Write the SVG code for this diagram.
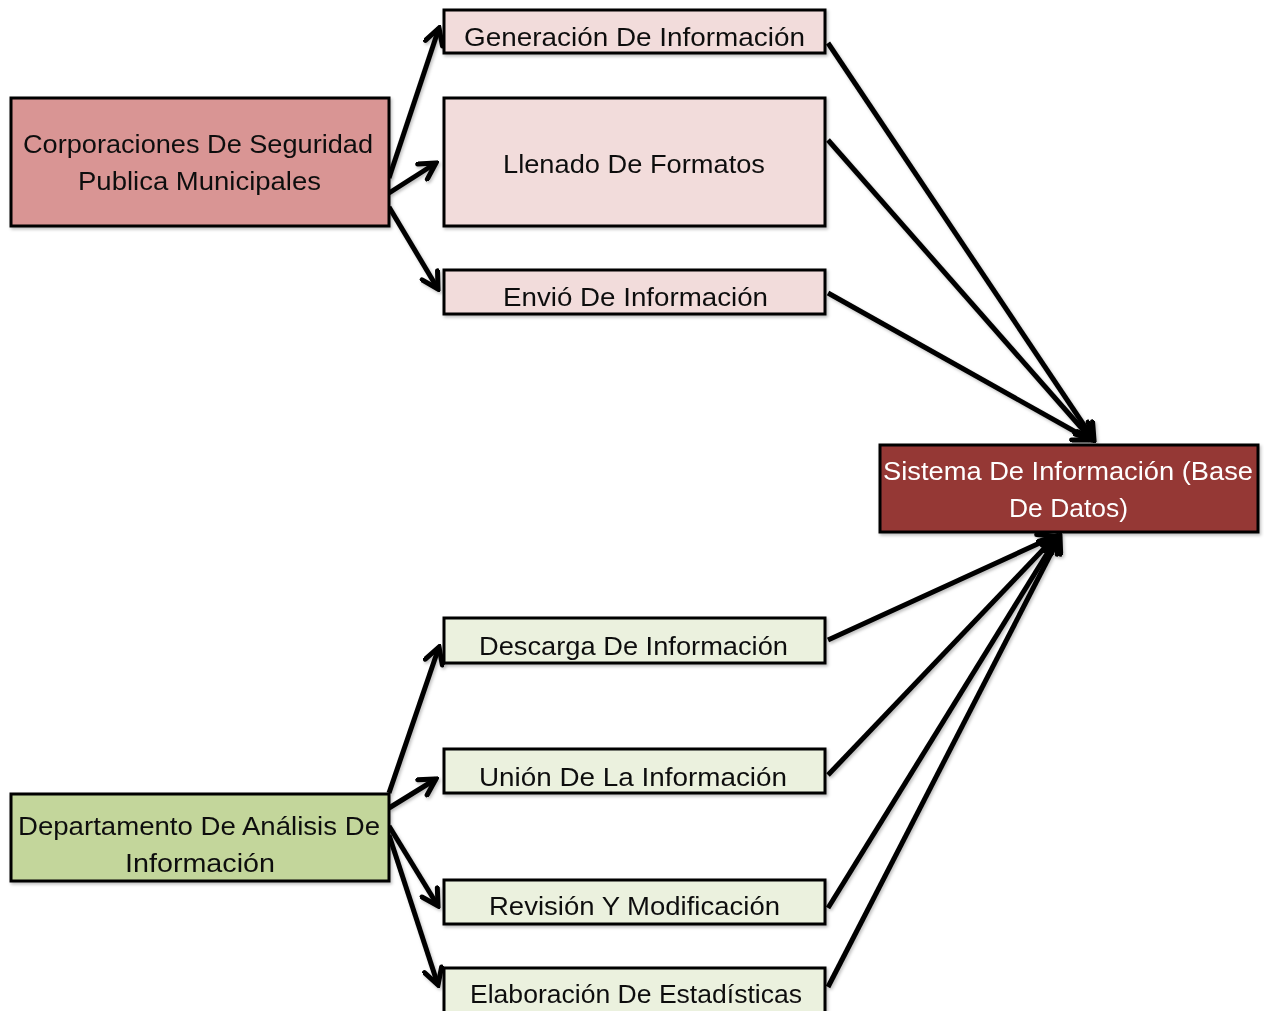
<svg xmlns="http://www.w3.org/2000/svg" width="1264" height="1011" viewBox="0 0 1264 1011">
<style>
.box{stroke:#000;stroke-width:3}
.t{font-family:"Liberation Sans",Arial,sans-serif;font-size:26px;fill:#111}
.w{fill:#fff}
.ln{stroke:#000;stroke-width:5;fill:none;marker-end:url(#ah)}
.pk{fill:#f2dcdb}
.rd{fill:#d99594}
.dr{fill:#953735}
.lg{fill:#ebf1de}
.gr{fill:#c3d69b}
</style>
<defs>
<marker id="ah" viewBox="0 0 22 22" refX="19" refY="11" markerWidth="22" markerHeight="22" markerUnits="userSpaceOnUse" orient="auto">
<path d="M3,2 L19,11 L3,20" fill="none" stroke="#000" stroke-width="5" stroke-linecap="round" stroke-linejoin="miter"/>
</marker>
<filter id="sh" x="-5%" y="-5%" width="110%" height="120%">
<feDropShadow dx="1.5" dy="2" stdDeviation="1.5" flood-color="#000" flood-opacity="0.25"/>
</filter>
</defs>
<rect width="1264" height="1011" fill="#fff"/>
<g id="connectors" filter="url(#sh)">
<line class="ln" x1="389" y1="178" x2="439" y2="28"/>
<line class="ln" x1="389" y1="193" x2="436" y2="163"/>
<line class="ln" x1="389" y1="207" x2="438" y2="289"/>
<line class="ln" x1="389" y1="793" x2="439" y2="647"/>
<line class="ln" x1="389" y1="808" x2="436" y2="779"/>
<line class="ln" x1="389" y1="826" x2="438" y2="906"/>
<line class="ln" x1="389" y1="835" x2="438" y2="985"/>
<line class="ln" x1="828" y1="43" x2="1094" y2="440"/>
<line class="ln" x1="828" y1="140" x2="1092" y2="440"/>
<line class="ln" x1="828" y1="293" x2="1090" y2="440"/>
<line class="ln" x1="828" y1="640" x2="1055" y2="536"/>
<line class="ln" x1="828" y1="775" x2="1056" y2="536"/>
<line class="ln" x1="828" y1="908" x2="1058" y2="536"/>
<line class="ln" x1="828" y1="987" x2="1060" y2="536"/>
</g>
<g id="corporaciones" filter="url(#sh)">
<rect class="box rd" x="11" y="98" width="378" height="128"/>
<text class="t" x="23" y="153" textLength="350" lengthAdjust="spacingAndGlyphs">Corporaciones De Seguridad</text>
<text class="t" x="78" y="190" textLength="243" lengthAdjust="spacingAndGlyphs">Publica Municipales</text>
</g>
<g id="generacion" filter="url(#sh)">
<rect class="box pk" x="444" y="10" width="381" height="43"/>
<text class="t" x="464" y="46" textLength="341" lengthAdjust="spacingAndGlyphs">Generación De Información</text>
</g>
<g id="llenado" filter="url(#sh)">
<rect class="box pk" x="444" y="98" width="381" height="128"/>
<text class="t" x="503" y="173" textLength="262" lengthAdjust="spacingAndGlyphs">Llenado De Formatos</text>
</g>
<g id="envio" filter="url(#sh)">
<rect class="box pk" x="444" y="270" width="381" height="44"/>
<text class="t" x="503" y="306" textLength="265" lengthAdjust="spacingAndGlyphs">Envió De Información</text>
</g>
<g id="sistema" filter="url(#sh)">
<rect class="box dr" x="880" y="445" width="378" height="87"/>
<text class="t w" x="883" y="480" textLength="370" lengthAdjust="spacingAndGlyphs">Sistema De Información (Base</text>
<text class="t w" x="1009" y="517" textLength="119" lengthAdjust="spacingAndGlyphs">De Datos)</text>
</g>
<g id="descarga" filter="url(#sh)">
<rect class="box lg" x="444" y="618" width="381" height="45"/>
<text class="t" x="479" y="655" textLength="309" lengthAdjust="spacingAndGlyphs">Descarga De Información</text>
</g>
<g id="union" filter="url(#sh)">
<rect class="box lg" x="444" y="749" width="381" height="44"/>
<text class="t" x="479" y="786" textLength="308" lengthAdjust="spacingAndGlyphs">Unión De La Información</text>
</g>
<g id="revision" filter="url(#sh)">
<rect class="box lg" x="444" y="880" width="381" height="44"/>
<text class="t" x="489" y="915" textLength="291" lengthAdjust="spacingAndGlyphs">Revisión Y Modificación</text>
</g>
<g id="elaboracion" filter="url(#sh)">
<rect class="box lg" x="444" y="968" width="381" height="60"/>
<text class="t" x="470" y="1003" textLength="332" lengthAdjust="spacingAndGlyphs">Elaboración De Estadísticas</text>
</g>
<g id="departamento" filter="url(#sh)">
<rect class="box gr" x="11" y="794" width="378" height="87"/>
<text class="t" x="18" y="835" textLength="362" lengthAdjust="spacingAndGlyphs">Departamento De Análisis De</text>
<text class="t" x="125" y="872" textLength="150" lengthAdjust="spacingAndGlyphs">Información</text>
</g>
</svg>
